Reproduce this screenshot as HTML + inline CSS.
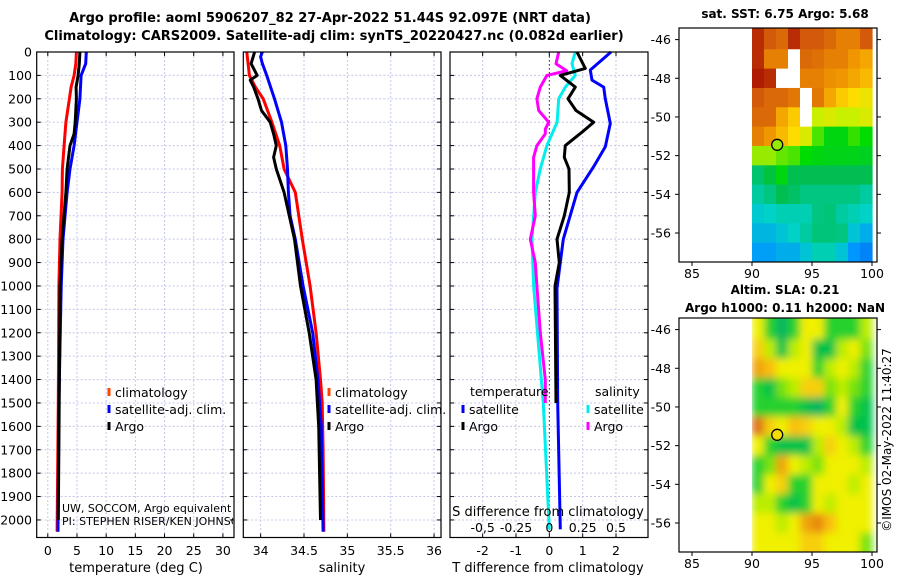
<!DOCTYPE html>
<html><head><meta charset="utf-8"><style>
body{margin:0;background:#fff;}
svg{display:block;font-family:"DejaVu Sans","Liberation Sans",sans-serif;}
</style></head><body>
<svg id="fig" width="900" height="580" viewBox="0 0 900 580" xmlns="http://www.w3.org/2000/svg">
<text x="330" y="22" text-anchor="middle" font-size="13" font-weight="bold">Argo profile: aoml 5906207_82 27-Apr-2022 51.44S 92.097E (NRT data)</text>
<text x="334" y="40" text-anchor="middle" font-size="13" font-weight="bold">Climatology: CARS2009. Satellite-adj clim: synTS_20220427.nc (0.082d earlier)</text>
<text x="785" y="18" text-anchor="middle" font-size="12" font-weight="bold">sat. SST: 6.75 Argo: 5.68</text>
<text x="785" y="294" text-anchor="middle" font-size="12" font-weight="bold">Altim. SLA: 0.21</text>
<text x="785" y="312" text-anchor="middle" font-size="12" font-weight="bold">Argo h1000: 0.11 h2000: NaN</text>
<text transform="translate(891,440) rotate(-90)" text-anchor="middle" font-size="12">©IMOS 02-May-2022 11:40:27</text>
<g id="root"></g>
</svg>
<script>
// depth grid
const depthTicks=[0,100,200,300,400,500,600,700,800,900,1000,1100,1200,1300,1400,1500,1600,1700,1800,1900,2000];
// temperature panel
const tDepth=[0,50,100,150,200,300,400,500,600,800,1000,1500,2050];
const tClim=[4.9,4.8,4.5,4.0,3.7,3.1,2.8,2.5,2.45,2.1,1.9,1.8,1.6];
const tSat=[6.6,6.5,5.7,5.6,5.5,5.0,4.5,3.8,3.3,2.6,2.3,1.9,1.75];
const tArgoDepth=[0,50,100,150,200,300,350,400,500,600,800,1000,1500,2000];
const tArgo=[5.5,5.4,5.2,4.85,4.9,4.7,4.5,3.8,3.3,3.1,2.45,2.1,1.95,1.8];
const tTicks=[0,5,10,15,20,25,30];
// salinity panel
const sClimDepth=[0,100,150,200,300,400,500,600,800,1000,1200,1400,1500,1700,2050];
const sClim=[33.84,33.87,33.94,34.03,34.13,34.22,34.27,34.4,34.48,34.57,34.64,34.69,34.71,34.72,34.73];
const sSatDepth=[0,20,50,100,200,300,400,500,600,700,800,1000,1200,1400,1600,2050];
const sSat=[34.02,34.0,34.02,34.07,34.16,34.24,34.29,34.31,34.32,34.34,34.4,34.49,34.6,34.66,34.7,34.72];
const sArgoDepth=[0,50,100,120,150,200,250,300,350,400,450,500,600,800,1000,1200,1400,1600,2000];
const sArgo=[33.93,33.89,33.96,33.88,33.92,33.97,34.01,34.11,34.15,34.18,34.15,34.18,34.27,34.39,34.46,34.56,34.64,34.67,34.69];
const sTicks=[34,34.5,35,35.5,36];
const sTickLabels=["34","34.5","35","35.5","36"];
// difference panel
const dTSatDepth=[0,77,120,150,200,305,405,490,600,800,1010,1500,2040];
const dTSat=[1.85,1.23,1.28,1.63,1.68,1.83,1.68,1.33,0.83,0.42,0.23,0.25,0.33];
const dTArgoDepth=[0,70,100,150,200,250,300,340,400,450,500,600,700,800,900,1000,1500];
const dTArgo=[0.83,1.08,0.33,0.78,0.56,0.8,1.33,1.0,0.48,0.45,0.59,0.6,0.45,0.23,0.3,0.17,0.2];
const dSSatDepth=[0,50,100,150,200,300,400,500,600,800,1000,1500,2040];
const dSSat=[0.195,0.17,0.195,0.12,0.07,0.058,-0.018,-0.068,-0.105,-0.13,-0.118,-0.045,0];
const dSArgoDepth=[0,50,80,100,150,200,250,300,330,350,400,450,500,600,700,800,900,1000,1200,1400,1500];
const dSArgo=[0.07,0.05,0.13,-0.018,-0.068,-0.093,-0.08,-0.005,-0.03,-0.03,-0.093,-0.118,-0.118,-0.118,-0.105,-0.143,-0.105,-0.093,-0.068,-0.03,-0.03];
const dTTicks=[-2,-1,0,1,2];
const dSTicks=[-0.5,-0.25,0,0.25,0.5];
const dSTickLabels=["-0,5","-0.25","0","0.25","0.5"];
// maps
const mapLats=[-46,-47,-48,-49,-50,-51,-52,-53,-54,-55,-56,-57];
const mapLons=[90.5,91.5,92.5,93.5,94.5,95.5,96.5,97.5,98.5,99.5];
const sstGrid=[
[0.95,0.9,0.88,0.95,0.9,0.9,0.88,0.85,0.85,0.9],
[0.95,0.85,0.85,-1,0.88,0.87,0.85,0.85,0.82,0.8],
[0.97,0.95,-1,-1,0.85,0.85,0.83,0.82,0.8,0.78],
[0.9,0.88,0.88,0.86,-1,0.86,0.8,0.76,0.74,0.72],
[0.88,0.88,0.8,0.76,-1,0.68,0.7,0.68,0.68,0.7],
[0.85,0.82,0.78,0.74,0.7,0.63,0.58,0.58,0.62,0.6],
[0.66,0.66,0.64,0.63,0.6,0.58,0.57,0.57,0.57,0.56],
[0.47,0.52,0.58,0.5,0.5,0.5,0.5,0.5,0.5,0.5],
[0.42,0.45,0.5,0.48,0.45,0.45,0.45,0.45,0.45,0.42],
[0.36,0.38,0.4,0.4,0.4,0.45,0.46,0.42,0.4,0.38],
[0.32,0.32,0.35,0.38,0.42,0.46,0.46,0.45,0.35,0.3],
[0.27,0.27,0.3,0.3,0.35,0.4,0.4,0.35,0.25,0.2]];
const slaGrid=[
[0.6,0.3,0.1,0.3,0.6,0.6,0.3,0.3,0.3,0.5],
[0.7,0.5,0.2,0.5,0.6,0.2,0.2,0.5,0.6,0.4],
[0.8,0.75,0.6,0.6,0.6,0.3,0.5,0.6,0.5,0.3],
[0.3,0.2,0.4,0.5,0.7,0.7,0.4,0.5,0.4,0.3],
[0.3,0.3,0.3,0.3,0.2,0.1,0.3,0.6,0.3,0.2],
[0.9,0.7,0.6,0.75,0.7,0.6,0.6,0.5,0.2,0.2],
[0.6,0.3,0.2,0.2,0.2,0.5,0.7,0.6,0.5,0.3],
[0.3,0.4,0.8,0.6,0.5,0.4,0.6,0.6,0.6,0.5],
[0.3,0.6,0.7,0.3,0.3,0.6,0.6,0.6,0.5,0.6],
[0.5,0.5,0.3,0.2,0.3,0.6,0.5,0.6,0.6,0.6],
[0.6,0.6,0.5,0.6,0.8,0.85,0.75,0.6,0.6,0.6],
[0.6,0.6,0.6,0.6,0.7,0.7,0.6,0.6,0.6,0.4]];
const latTicks=[-46,-48,-50,-52,-54,-56];
const lonTicks=[85,90,95,100];
const argoLon=92.1, argoLat=-51.44;

const NS="http://www.w3.org/2000/svg";
const root=document.getElementById('root');
function mk(tag,attrs,parent){const e=document.createElementNS(NS,tag);for(const k in attrs)e.setAttribute(k,attrs[k]);(parent||root).appendChild(e);return e;}
const Y0=52,Y1=537.5,DMAX=2075;
const yD=d=>Y0+(Y1-Y0)*d/DMAX;

function panel(name,x0,x1,vmin,vmax){
  const sx=v=>x0+(x1-x0)*(v-vmin)/(vmax-vmin);
  const g=mk('g',{});
  
  
  return {g,sx,x0,x1};
}
function grid(p,xt){
  depthTicks.forEach(d=>{
    const l=mk('line',{x1:p.x0,x2:p.x1,y1:yD(d),y2:yD(d),stroke:'#c4c8e8','stroke-width':1,'stroke-dasharray':'2,2'},p.g);
    
    
    mk('line',{x1:p.x0,x2:p.x0+4,y1:yD(d),y2:yD(d),stroke:'#000'},p.g);
    mk('line',{x1:p.x1-4,x2:p.x1,y1:yD(d),y2:yD(d),stroke:'#000'},p.g);
  });
  xt.forEach(v=>{
    const l=mk('line',{x1:p.sx(v),x2:p.sx(v),y1:Y0,y2:Y1,stroke:'#c4c8e8','stroke-width':1,'stroke-dasharray':'2,2'},p.g);
    
    
    mk('line',{x1:p.sx(v),x2:p.sx(v),y1:Y1-4,y2:Y1,stroke:'#000'},p.g);
    mk('line',{x1:p.sx(v),x2:p.sx(v),y1:Y0,y2:Y0+4,stroke:'#000'},p.g);
  });
}
function frame(p){const r=mk('rect',{x:p.x0,y:Y0,width:p.x1-p.x0,height:Y1-Y0,fill:'none',stroke:'#000','stroke-width':1.2},p.g);
  
  }
function line(p,name,depths,vals,color,sx,w){
  const pts=depths.map((d,i)=>sx(vals[i]).toFixed(1)+','+yD(d).toFixed(1)).join(' ');
  const l=mk('polyline',{points:pts,fill:'none',stroke:color,'stroke-width':w||3,'stroke-linejoin':'round'},p.g);
  
  
}
function txt(p,s,x,y,opts){const t=mk('text',Object.assign({x,y,'font-size':12},opts||{}),p?p.g:root);t.textContent=s;return t;}
function legend(p,x,y,color,label){
  mk('line',{x1:x,x2:x,y1:y-9,y2:y-1,stroke:color,'stroke-width':3},p.g);
  const t=txt(p,label,x+6,y,{'font-size':12.5});
  
  
}

// Panel 1
const p1=panel('temperature-panel',36.7,234,-1.9,31.9);
grid(p1,tTicks);
line(p1,'temp-climatology-line',tDepth,tClim,'#ff0000',p1.sx);
line(p1,'temp-satellite-line',tDepth,tSat,'#0000ff',p1.sx);
line(p1,'temp-argo-line',tArgoDepth,tArgo,'#000',p1.sx);
frame(p1);
depthTicks.forEach(d=>{const t=txt(null,String(d),32,yD(d)+4.5,{'text-anchor':'end','font-size':12.5});
  
  });
tTicks.forEach(v=>{const t=txt(p1,String(v),p1.sx(v),555,{'text-anchor':'middle','font-size':12.5});
  
  });
txt(p1,'temperature (deg C)',136,572,{'text-anchor':'middle','font-size':13});
legend(p1,109,397,'#ff4400','climatology');
legend(p1,109,414,'#0000ff','satellite-adj. clim.');
legend(p1,109,431,'#000','Argo');
const c1=mk('clipPath',{id:'c1'},root);mk('rect',{x:37,y:52,width:196,height:486},c1);
const ng=mk('g',{'clip-path':'url(#c1)'},p1.g);
const n1=txt(null,'UW, SOCCOM, Argo equivalent',62,512,{'font-size':11});ng.appendChild(n1);


const n2=txt(null,'PI: STEPHEN RISER/KEN JOHNSON',62,525,{'font-size':11});ng.appendChild(n2);



// Panel 2
const p2=panel('salinity-panel',243.3,441,33.8,36.08);
grid(p2,sTicks);
line(p2,'sal-climatology-line',sClimDepth,sClim,'#ff0000',p2.sx);
line(p2,'sal-satellite-line',sSatDepth,sSat,'#0000ff',p2.sx);
line(p2,'sal-argo-line',sArgoDepth,sArgo,'#000',p2.sx);
frame(p2);
sTicks.forEach((v,i)=>{const t=txt(p2,sTickLabels[i],p2.sx(v),555,{'text-anchor':'middle','font-size':12.5});
  
  });
txt(p2,'salinity',342,572,{'text-anchor':'middle','font-size':13});
legend(p2,329,397,'#ff4400','climatology');
legend(p2,329,414,'#0000ff','satellite-adj. clim.');
legend(p2,329,431,'#000','Argo');

// Panel 3
const p3=panel('difference-panel',450,648,-2.98,2.96);
const sxS=v=>p3.sx(v*4);
grid(p3,dTTicks);
mk('line',{x1:p3.sx(0),x2:p3.sx(0),y1:Y0,y2:Y1,stroke:'#333','stroke-dasharray':'1.5,2.5'},p3.g);
line(p3,'sal-diff-satellite-line',dSSatDepth,dSSat,'#00eeee',sxS);
line(p3,'sal-diff-argo-line',dSArgoDepth,dSArgo,'#ff00ff',sxS);
line(p3,'temp-diff-satellite-line',dTSatDepth,dTSat,'#0000ff',p3.sx);
line(p3,'temp-diff-argo-line',dTArgoDepth,dTArgo,'#000',p3.sx);
frame(p3);
dTTicks.forEach(v=>{const t=txt(p3,String(v),p3.sx(v),555,{'text-anchor':'middle','font-size':12.5});
  
  });
dSTicks.forEach((v,i)=>{const t=txt(p3,dSTickLabels[i],sxS(v),532,{'text-anchor':'middle','font-size':12.5});
  
  });
txt(p3,'S difference from climatology',548,516,{'text-anchor':'middle','font-size':13});
txt(p3,'T difference from climatology',548,572,{'text-anchor':'middle','font-size':13});
txt(p3,'temperature',470,396,{'font-size':12.5});
txt(p3,'salinity',595,396,{'font-size':12.5});
legend(p3,463,414,'#0000ff','satellite');
legend(p3,463,431,'#000','Argo');
legend(p3,588,414,'#00eeee','satellite');
legend(p3,588,431,'#ff00ff','Argo');

// Maps
function sstColor(v){
  const stops=[[0,[0,60,220]],[0.25,[0,150,255]],[0.38,[0,210,200]],[0.5,[0,190,80]],[0.6,[0,220,0]],[0.68,[200,240,0]],[0.74,[255,220,0]],[0.82,[240,150,0]],[0.9,[210,90,10]],[1,[160,0,0]]];
  return interp(stops,v);}
function slaColor(v){
  const stops=[[0,[0,170,120]],[0.25,[0,200,60]],[0.45,[160,235,0]],[0.6,[240,240,0]],[0.75,[250,190,10]],[0.9,[220,110,20]],[1,[200,80,20]]];
  return interp(stops,v);}
function interp(stops,v){
  for(let i=1;i<stops.length;i++){if(v<=stops[i][0]){const a=stops[i-1],b=stops[i],t=(v-a[0])/(b[0]-a[0]);
    return 'rgb('+a[1].map((c,k)=>Math.round(c+(b[1][k]-c)*t)).join(',')+')';}}
  return 'rgb('+stops[stops.length-1][1].join(',')+')';}
function map(name,top,bottom,gridv,colorFn,blur){
  const L=679,R=877;
  const lx=lon=>752+(lon-90)*12;
  const ly=lat=>top+(bottom-top)*(lat+45.4)/(-57.5+45.4);
  const g=mk('g',{});
  
  
  const cid=name+'-clip';
  const cp=mk('clipPath',{id:cid},g);mk('rect',{x:752,y:top,width:R-752,height:bottom-top},cp);
  const hg=mk('g',{'clip-path':'url(#'+cid+')'},g);
  const inner=mk('g',blur?{filter:'url(#bl)'}:{},hg);
  gridv.forEach((row,i)=>row.forEach((v,j)=>{
    const x=lx(mapLons[j]-0.5),y=ly(mapLats[i]+0.5);
    const ext=(i===0?1:0),extB=(i===gridv.length-1?1:0);
    const r=mk('rect',{x:x,y:y-ext*20,width:12.6,height:19.8+ext*20+extB*20,fill:v<0?'#fff':colorFn(v)},inner);
    
    
  }));
  mk('rect',{x:L,y:top,width:R-L,height:bottom-top,fill:'none',stroke:'#000','stroke-width':1.2},g);
  latTicks.forEach(t=>{const y=ly(t);mk('line',{x1:L-4,x2:L,y1:y,y2:y,stroke:'#000'},g);mk('line',{x1:R,x2:R+4,y1:y,y2:y,stroke:'#000'},g);
    const tt=txt(null,String(t),L-8,y+4.5,{'text-anchor':'end','font-size':12.5});g.appendChild(tt);
    
    });
  lonTicks.forEach(t=>{const x=lx(t);mk('line',{x1:x,x2:x,y1:bottom,y2:bottom+4,stroke:'#000'},g);
    const tt=txt(null,String(t),x,bottom+16,{'text-anchor':'middle','font-size':12.5});g.appendChild(tt);
    
    });
  const c=mk('circle',{cx:lx(argoLon),cy:ly(argoLat),r:5.5,fill:colorFn(0.66),stroke:'#000','stroke-width':1.3},g);
  
  
}
const defs=mk('defs',{});const f=mk('filter',{id:'bl',x:'-5%',y:'-5%',width:'110%',height:'110%'},defs);mk('feGaussianBlur',{stdDeviation:4},f);
map('sst-map',28,262,sstGrid,sstColor,false);
map('sla-map',318,552,slaGrid,slaColor,true);
</script>
</body></html>
